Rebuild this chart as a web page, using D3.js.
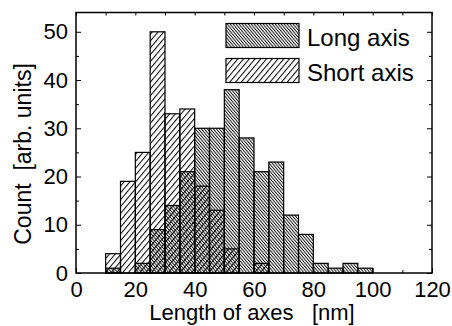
<!DOCTYPE html>
<html>
<head>
<meta charset="utf-8">
<script src="https://cdn.jsdelivr.net/npm/d3@7"></script>
<style>
  body { margin: 0; background: #fff; }
  svg text { font-family: "Liberation Sans", Arial, sans-serif; fill: #000; }
</style>
</head>
<body>
<div id="hist"></div>
<script>
// histogram data (bin start in nm, bin width 5)
var binWidth = 5;
var longStarts = [10, 15, 20, 25, 30, 35, 40, 45, 50, 55, 60, 65, 70, 75, 80, 85, 90, 95];
var longCounts = [1, 0, 2, 9, 14, 21, 30, 30, 38, 28, 21, 23, 12, 8, 2, 1, 2, 1];
var shortStarts = [10, 15, 20, 25, 30, 35, 40, 45, 50, 55, 60];
var shortCounts = [4, 19, 25, 50, 33, 34, 18, 13, 5, 0, 2];
var seriesNames = ["Long axis", "Short axis"];
var xMajorTicks = [0, 20, 40, 60, 80, 100, 120];
var xMinorTicks = [10, 30, 50, 70, 90, 110];
var yMajorTicks = [0, 10, 20, 30, 40, 50];
var yMinorTicks = [5, 15, 25, 35, 45];

function histchart() {

var svgWidth = 452;
var svgHeight = 326;

var margin = {
  top: 12.5,
  right: 20,
  bottom: 53,
  left: 76
};

var width = svgWidth - margin.left - margin.right;
var height = svgHeight - margin.top - margin.bottom;

var svg = d3.select("#hist")
    .append("svg")
    .attr("width", svgWidth)
    .attr("height", svgHeight);

// hatch patterns
var defs = svg.append("defs");

defs.append("pattern")
    .attr("id", "hatchLong")
    .attr("patternUnits", "userSpaceOnUse")
    .attr("width", 2.3)
    .attr("height", 10)
    .attr("patternTransform", "rotate(-40)")
  .append("line")
    .attr("x1", 0.5).attr("y1", 0)
    .attr("x2", 0.5).attr("y2", 10)
    .attr("stroke", "#000")
    .attr("stroke-width", 0.9);

defs.append("pattern")
    .attr("id", "hatchShort")
    .attr("patternUnits", "userSpaceOnUse")
    .attr("width", 4.4)
    .attr("height", 10)
    .attr("patternTransform", "rotate(40)")
  .append("line")
    .attr("x1", 0.5).attr("y1", 0)
    .attr("x2", 0.5).attr("y2", 10)
    .attr("stroke", "#000")
    .attr("stroke-width", 1);

var chartGroup = svg.append("g")
    .attr("transform", `translate(${margin.left}, ${margin.top})`);

var xScale = d3.scaleLinear()
    .domain([0, 120])
    .range([0, width]);

var yScale = d3.scaleLinear()
    .domain([0, 54])
    .range([height, 0]);

var longData = longStarts.map((s, i) => ({start: s, count: longCounts[i]})).filter(d => d.count > 0);
var shortData = shortStarts.map((s, i) => ({start: s, count: shortCounts[i]})).filter(d => d.count > 0);

// bars
function drawBars(data, cls, fill) {
  chartGroup.selectAll("rect." + cls)
      .data(data)
      .enter()
      .append("rect")
      .attr("class", cls)
      .attr("x", d => xScale(d.start))
      .attr("y", d => yScale(d.count))
      .attr("width", d => xScale(d.start + binWidth) - xScale(d.start))
      .attr("height", d => yScale(0) - yScale(d.count))
      .attr("fill", fill)
      .attr("stroke", "#000")
      .attr("stroke-width", 1.2);
}
drawBars(longData, "long", "url(#hatchLong)");
drawBars(shortData, "short", "url(#hatchShort)");

// axes: ticks point inward on all four sides
function styleAxis(g) {
  g.select(".domain").remove();
  g.selectAll("line").attr("stroke", "#000").attr("stroke-width", 1);
  g.selectAll("text").attr("font-size", "22px");
}

chartGroup.append("g")
    .attr("transform", `translate(0, ${height})`)
    .call(d3.axisBottom(xScale).tickValues(xMajorTicks).tickSize(-5).tickPadding(8))
    .call(styleAxis);
chartGroup.append("g")
    .attr("transform", `translate(0, ${height})`)
    .call(d3.axisBottom(xScale).tickValues(xMinorTicks).tickSize(-3).tickFormat(""))
    .call(styleAxis);
chartGroup.append("g")
    .call(d3.axisTop(xScale).tickValues(xMajorTicks.concat(xMinorTicks)).tickSize(-3).tickFormat(""))
    .call(styleAxis);

chartGroup.append("g")
    .call(d3.axisLeft(yScale).tickValues(yMajorTicks).tickSize(-5).tickPadding(8))
    .call(styleAxis);
chartGroup.append("g")
    .call(d3.axisLeft(yScale).tickValues(yMinorTicks).tickSize(-3).tickFormat(""))
    .call(styleAxis);
chartGroup.append("g")
    .attr("transform", `translate(${width}, 0)`)
    .call(d3.axisRight(yScale).tickValues(yMajorTicks).tickSize(-5).tickFormat(""))
    .call(styleAxis);
chartGroup.append("g")
    .attr("transform", `translate(${width}, 0)`)
    .call(d3.axisRight(yScale).tickValues(yMinorTicks).tickSize(-3).tickFormat(""))
    .call(styleAxis);

// frame
chartGroup.append("rect")
    .attr("width", width)
    .attr("height", height)
    .attr("fill", "none")
    .attr("stroke", "#000")
    .attr("stroke-width", 1.5);

// legend
var legend = chartGroup.append("g")
    .attr("transform", `translate(${226 - margin.left}, ${23.5 - margin.top})`);

var legendFills = ["url(#hatchLong)", "url(#hatchShort)"];
seriesNames.forEach(function(name, i) {
  var row = legend.append("g").attr("transform", `translate(0, ${i * 35})`);
  row.append("rect")
      .attr("width", 73)
      .attr("height", 24)
      .attr("fill", legendFills[i])
      .attr("stroke", "#000")
      .attr("stroke-width", 1.2);
  row.append("text")
      .attr("x", 81)
      .attr("y", 22)
      .attr("font-size", "24px")
      .text(name);
});

// axis titles
svg.append("text")
    .attr("transform", "rotate(-90)")
    .attr("x", -154)
    .attr("y", 31)
    .attr("text-anchor", "middle")
    .attr("font-size", "23px")
    .style("white-space", "pre")
    .text("Count  [arb. units]");

svg.append("text")
    .attr("x", 252)
    .attr("y", 320)
    .attr("text-anchor", "middle")
    .attr("font-size", "22px")
    .style("white-space", "pre")
    .text("Length of axes   [nm]");

}

histchart();
</script>
</body>
</html>
